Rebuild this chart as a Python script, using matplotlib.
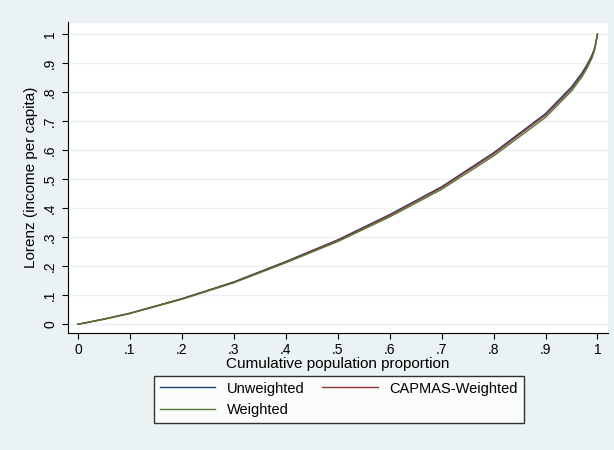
import numpy as np
import matplotlib.pyplot as plt

# Lorenz curve points
pop = [0, 0.05, 0.1, 0.2, 0.3, 0.4, 0.5, 0.6, 0.7, 0.8, 0.9, 0.95, 0.97, 0.98, 0.99, 0.995, 1.0]
unweighted = [0, 0.018, 0.038, 0.088, 0.146, 0.216, 0.291, 0.378, 0.474, 0.591, 0.726, 0.818, 0.866, 0.895, 0.93, 0.955, 1.0]
capmas = [0, 0.018, 0.038, 0.088, 0.145, 0.215, 0.289, 0.375, 0.471, 0.587, 0.721, 0.812, 0.86, 0.89, 0.926, 0.952, 1.0]
weighted = [0, 0.017, 0.037, 0.086, 0.143, 0.212, 0.285, 0.370, 0.465, 0.580, 0.713, 0.804, 0.852, 0.883, 0.92, 0.948, 1.0]

bg = '#eaf2f3'
plt.rcParams['font.family'] = ['Liberation Sans', 'DejaVu Sans']
fig = plt.figure(figsize=(6.14, 4.5), dpi=100, facecolor=bg)
ax = fig.add_axes([0.11, 0.26, 0.88, 0.69])
ax.set_facecolor('white')

l1, = ax.plot(pop, unweighted, color='#1a476f', lw=1, label='Unweighted')
l2, = ax.plot(pop, capmas, color='#90353b', lw=1, label='CAPMAS-Weighted')
l3, = ax.plot(pop, weighted, color='#55752f', lw=1, label='Weighted')

ticks = np.round(np.arange(0, 1.01, 0.1), 1)
labels = ['0'] + ['.%d' % i for i in range(1, 10)] + ['1']
ax.set_xticks(ticks, labels)
ax.set_yticks(ticks, labels, rotation=90, va='center')
ax.set_xlim(-0.02, 1.02)
ax.set_ylim(-0.03, 1.04)
ax.grid(axis='y', color='#eaf2f3', lw=1)
ax.set_axisbelow(True)
for s in ['top', 'right']:
    ax.spines[s].set_visible(False)
ax.tick_params(labelsize=10, length=4)
ax.set_xlabel('Cumulative population proportion', fontsize=11, labelpad=0)
ax.set_ylabel('Lorenz (income per capita)', fontsize=11)

leg = fig.legend([l1, l3, l2], ['Unweighted', 'Weighted', 'CAPMAS-Weighted'],
                 loc='center', bbox_to_anchor=(0.552, 0.113), ncol=2, fontsize=10.5,
                 frameon=True, fancybox=False, edgecolor='black', handlelength=3.8,
                 columnspacing=1.2)
leg.get_frame().set_facecolor('white')

fig.savefig('out.png', facecolor=bg)
